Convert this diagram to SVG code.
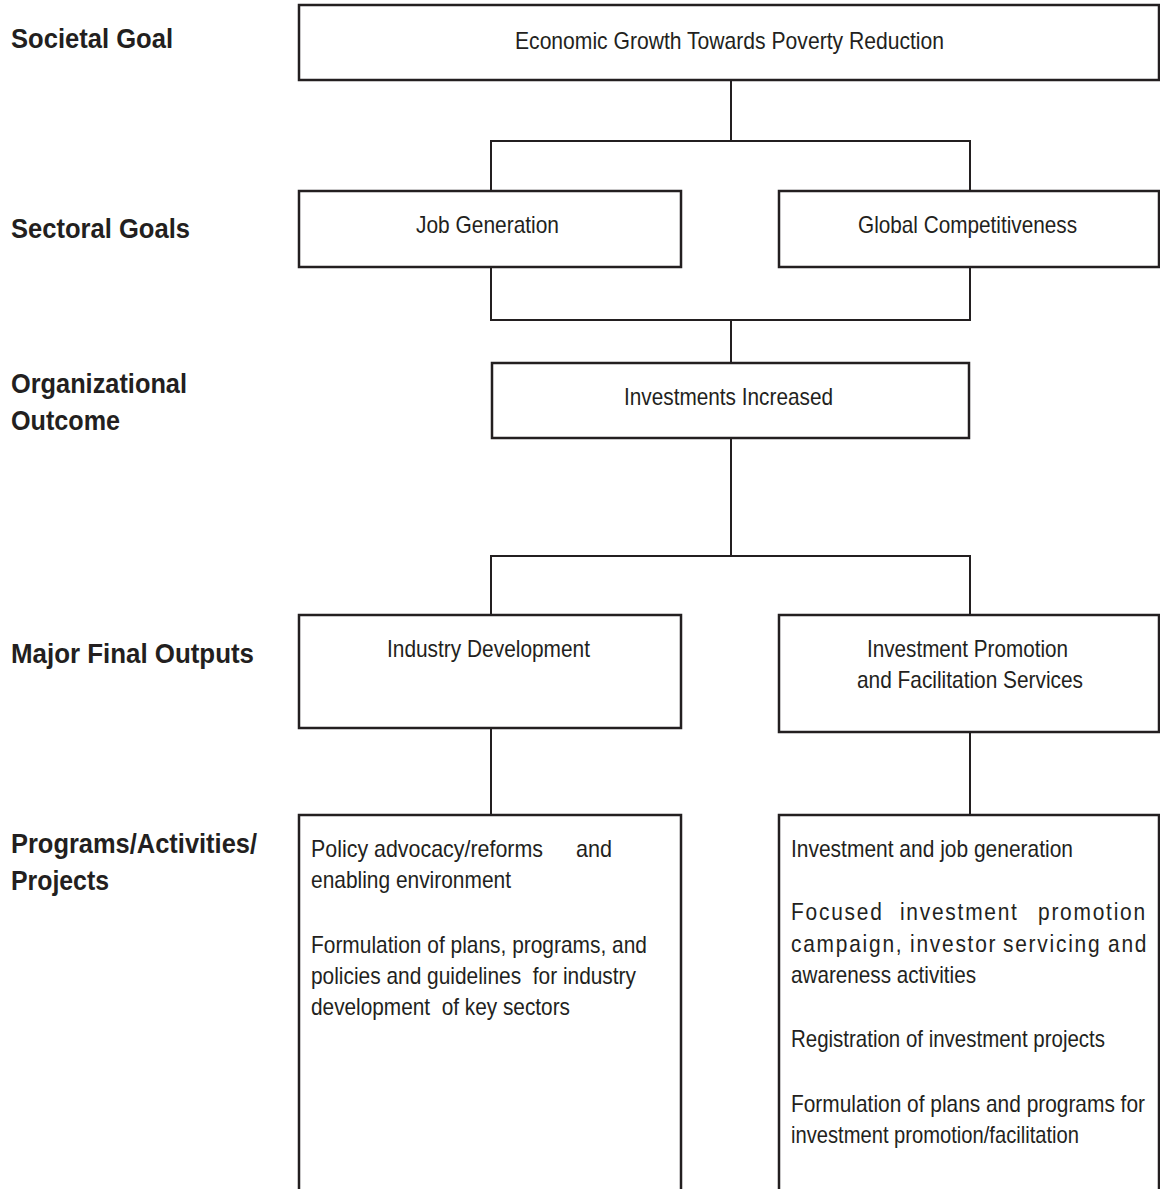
<svg xmlns="http://www.w3.org/2000/svg" width="1160" height="1189" viewBox="0 0 1160 1189">
<style>
.bg{fill:#ffffff}
.box{fill:#ffffff;stroke:#231f20;stroke-width:2.5}
.con{fill:none;stroke:#231f20;stroke-width:2}
.t{font-family:"Liberation Sans Narrow","Liberation Sans",Arial,sans-serif;font-size:24px;fill:#231f20}
.lbl{font-family:"Liberation Sans Narrow","Liberation Sans",Arial,sans-serif;font-size:27px;font-weight:bold;fill:#231f20}
</style>
<rect class="bg" x="0" y="0" width="1160" height="1189"/>
<g id="labels">
<text class="lbl" x="11" y="48" textLength="162" lengthAdjust="spacingAndGlyphs">Societal Goal</text>
<text class="lbl" x="11" y="238" textLength="179" lengthAdjust="spacingAndGlyphs">Sectoral Goals</text>
<text class="lbl" x="11" y="393" textLength="176" lengthAdjust="spacingAndGlyphs">Organizational</text>
<text class="lbl" x="11" y="430" textLength="109" lengthAdjust="spacingAndGlyphs">Outcome</text>
<text class="lbl" x="11" y="663" textLength="243" lengthAdjust="spacingAndGlyphs">Major Final Outputs</text>
<text class="lbl" x="11" y="853" textLength="246" lengthAdjust="spacingAndGlyphs">Programs/Activities/</text>
<text class="lbl" x="11" y="890" textLength="98" lengthAdjust="spacingAndGlyphs">Projects</text>
</g>
<g id="connectors">
<path class="con" d="M731,80 V141"/>
<path class="con" d="M491,191 V141 H970 V191"/>
<path class="con" d="M491,267 V320 H970 V267"/>
<path class="con" d="M731,320 V363"/>
<path class="con" d="M731,438 V556"/>
<path class="con" d="M491,615 V556 H970 V615"/>
<path class="con" d="M491,728 V815"/>
<path class="con" d="M970,732 V815"/>
</g>
<g id="societal-goal">
<rect class="box" x="299" y="5" width="860" height="75"/>
<text class="t" x="515" y="49" textLength="429" lengthAdjust="spacingAndGlyphs">Economic Growth Towards Poverty Reduction</text>
</g>
<g id="job-generation">
<rect class="box" x="299" y="191" width="382" height="76"/>
<text class="t" x="416" y="233" textLength="143" lengthAdjust="spacingAndGlyphs">Job Generation</text>
</g>
<g id="global-competitiveness">
<rect class="box" x="779" y="191" width="380" height="76"/>
<text class="t" x="858" y="233" textLength="219" lengthAdjust="spacingAndGlyphs">Global Competitiveness</text>
</g>
<g id="investments-increased">
<rect class="box" x="492" y="363" width="477" height="75"/>
<text class="t" x="624" y="405" textLength="209" lengthAdjust="spacingAndGlyphs">Investments Increased</text>
</g>
<g id="industry-development">
<rect class="box" x="299" y="615" width="382" height="113"/>
<text class="t" x="387" y="657" textLength="203" lengthAdjust="spacingAndGlyphs">Industry Development</text>
</g>
<g id="investment-promotion">
<rect class="box" x="779" y="615" width="380" height="117"/>
<text class="t" x="867" y="657" textLength="201" lengthAdjust="spacingAndGlyphs">Investment Promotion</text>
<text class="t" x="857" y="688" textLength="226" lengthAdjust="spacingAndGlyphs">and Facilitation Services</text>
</g>
<g id="programs-left">
<rect class="box" x="299" y="815" width="382" height="400"/>
<text class="t" y="857"><tspan x="311" textLength="232" lengthAdjust="spacingAndGlyphs">Policy advocacy/reforms</tspan> <tspan x="576" textLength="36" lengthAdjust="spacingAndGlyphs">and</tspan></text>
<text class="t" x="311" y="888" textLength="200" lengthAdjust="spacingAndGlyphs">enabling environment</text>
<text class="t" x="311" y="953" textLength="336" lengthAdjust="spacingAndGlyphs">Formulation of plans, programs, and</text>
<text class="t" x="311" y="984" textLength="325" lengthAdjust="spacingAndGlyphs" xml:space="preserve">policies and guidelines  for industry</text>
<text class="t" x="311" y="1015" textLength="259" lengthAdjust="spacingAndGlyphs" xml:space="preserve">development  of key sectors</text>
</g>
<g id="programs-right">
<rect class="box" x="779" y="815" width="380" height="400"/>
<text class="t" x="791" y="857" textLength="282" lengthAdjust="spacingAndGlyphs">Investment and job generation</text>
<text class="t" transform="scale(0.873,1)" y="920" letter-spacing="2"><tspan x="906.1">Focused </tspan><tspan x="1030.9">investment </tspan><tspan x="1189">promotion</tspan></text>
<text class="t" transform="scale(0.873,1)" y="952" letter-spacing="2"><tspan x="906.1">campaign, </tspan><tspan x="1042.4">investor </tspan><tspan x="1148.9">servicing </tspan><tspan x="1269.2">and</tspan></text>
<text class="t" x="791" y="983" textLength="185" lengthAdjust="spacingAndGlyphs">awareness activities</text>
<text class="t" x="791" y="1047" textLength="314" lengthAdjust="spacingAndGlyphs">Registration of investment projects</text>
<text class="t" x="791" y="1112" textLength="354" lengthAdjust="spacingAndGlyphs">Formulation of plans and programs for</text>
<text class="t" x="791" y="1143" textLength="288" lengthAdjust="spacingAndGlyphs">investment promotion/facilitation</text>
</g>
</svg>
